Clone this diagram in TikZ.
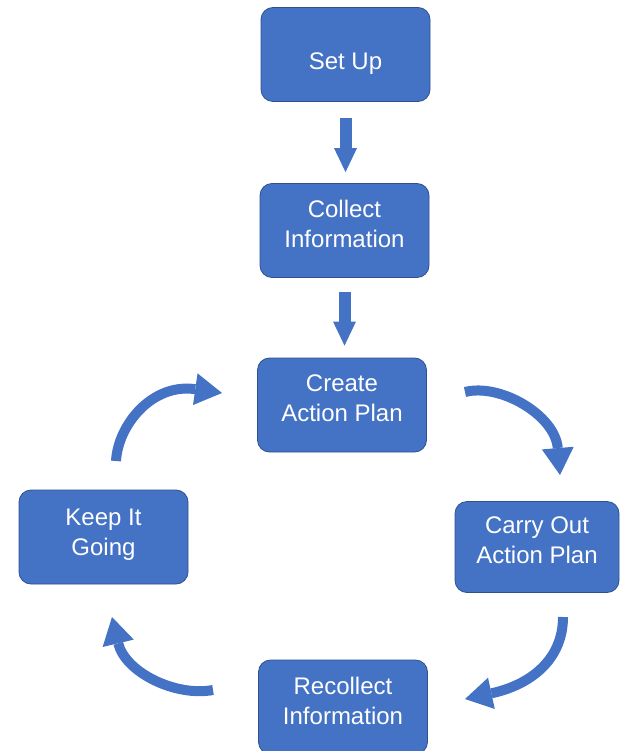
\documentclass[tikz,border=0pt]{standalone}
\usepackage{fontspec}
\setmainfont{Liberation Sans}
\usetikzlibrary{arrows.meta,calc}
\definecolor{boxblue}{HTML}{4472C4}
\definecolor{boxline}{HTML}{2F528F}
\begin{document}
\begin{tikzpicture}[x=1pt,y=-1pt,
  stepbox/.style={draw=boxline, line width=0.8pt, fill=boxblue, rounded corners=12pt,
    minimum width=169pt, minimum height=94pt, inner sep=0pt, text=white, align=center,
    text depth=13pt, font=\fontsize{24}{30}\selectfont},
  straightarrow/.style={draw=boxblue, line width=12pt, -{Triangle[width=23pt,length=24pt,line width=0pt]}},
  curvearrow/.style={draw=boxblue, line width=10pt, -{Triangle[width=32pt,length=27pt,line width=0pt]}}]
\useasboundingbox (0,0) rectangle (620,751);
\clip (0,0) rectangle (620,751);

\node[stepbox, text height=34pt, text depth=4pt] (setup) at (345.5,54.5) {Set Up};
\node[stepbox] (collect) at (344.5,230.5) {Collect\\Information};
\node[stepbox] (create) at (342,405) {Create\\Action Plan};
\node[stepbox, text depth=10pt] (keep) at (103.5,537) {Keep It\\Going};
\node[stepbox, minimum width=164pt, minimum height=91pt] (carry) at (537,547) {Carry Out\\Action Plan};
\node[stepbox] (recollect) at (343,707) {Recollect\\Information};

\coordinate (t1) at ($(collect.north)+(0,-11)$);
\draw[straightarrow] ($(setup.south)+(0,16)$) -- (setup.south |- t1);
\coordinate (t2) at ($(create.north)+(0,-12)$);
\draw[straightarrow] (collect.south |- 0,292) -- (collect.south |- t2);

\coordinate (a1) at (116,461);
\coordinate (a2) at (222,393);
\draw[curvearrow] (a1) .. controls (118,425) and (152,383) .. (a2);

\coordinate (b1) at (465,392);
\coordinate (b2) at (560,475);
\draw[curvearrow] (b1) .. controls (500,383) and (555,415) .. (b2);

\coordinate (c1) at (563,617);
\coordinate (c2) at (465,699);
\draw[curvearrow] (c1) .. controls (563,660) and (530,685) .. (c2);

\coordinate (d1) at (213,690);
\coordinate (d2) at (112,617);
\draw[curvearrow] (d1) .. controls (175,697) and (125,672) .. (d2);
\end{tikzpicture}
\end{document}
